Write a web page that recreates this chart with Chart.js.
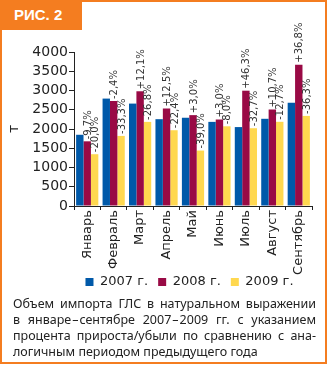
<!DOCTYPE html>
<html>
<head>
<meta charset="utf-8">
<script src="https://cdn.jsdelivr.net/npm/chart.js@4/dist/chart.umd.min.js"></script>
<style>
  html, body { margin: 0; padding: 0; background: #fff; }
  body { width: 329px; height: 365px; position: relative; overflow: hidden; }
  #frame { position: absolute; left: 0; top: 0; width: 327px; height: 364px; box-sizing: border-box; border: 2px solid #f47d20; }
  #tag { position: absolute; left: 0; top: 0; width: 82px; height: 30px; background: #f47d20; color: #fff;
         font: bold 15px "Liberation Sans", Arial, sans-serif; line-height: 30px; padding-left: 14px; box-sizing: border-box; z-index: 3; }
  #wrap { position: absolute; left: 3px; top: 3px; width: 322px; height: 306px; z-index: 1; }
  #caption { position: absolute; left: 13px; top: 296px; width: 303px; font: 12.5px "Noto Sans", sans-serif; line-height: 16px; color: #222; z-index: 2; }
  #caption div { text-align: justify; text-align-last: justify; white-space: nowrap; }
  #caption div.last { text-align: left; text-align-last: left; }
  #caption .d { margin: 0 1px; }
</style>
</head>
<body>
<div id="frame"></div>
<div id="tag">РИС. 2</div>
<div id="wrap"><canvas id="c" width="322" height="306"></canvas></div>
<div id="caption">
  <div>Объем импорта ГЛС в натуральном выражении</div>
  <div>в январе<span class="d">–</span>сентябре 2007<span class="d">–</span>2009 гг. с указанием</div>
  <div>процента прироста/убыли по сравнению с ана-</div>
  <div class="last">логичным периодом предыдущего года</div>
</div>
<script>
const months = ["Январь", "Февраль", "Март", "Апрель", "Май", "Июнь", "Июль", "Август", "Сентябрь"];
const seriesNames = ["2007 г.", "2008 г.", "2009 г."];
const v2007 = [1850, 2790, 2660, 2255, 2290, 2185, 2050, 2265, 2685];
const v2008 = [1680, 2725, 2980, 2535, 2360, 2250, 2995, 2505, 3670];
const v2009 = [1345, 1820, 2185, 1968, 1440, 2070, 2020, 2187, 2340];
const growth2008 = ["-9,7%", "-2,4%", "+12,1%", "+12,5%", "+3,0%", "+3,0%", "+46,3%", "+10,7%", "+36,8%"];
const growth2009 = ["-20,0%", "-33,3%", "-26,8%", "-22,4%", "-39,0%", "-8,0%", "-32,7%", "-12,7%", "-36,3%"];
const yMin = 0, yMax = 4000, yStep = 500;

const colors = ["#0059a9", "#990a45", "#ffd84f"];
const FONT = '"DejaVu Sans", sans-serif';

const pctLabels = {
  id: 'pctLabels',
  afterDatasetsDraw(chart) {
    const ctx = chart.ctx;
    ctx.save();
    ctx.font = '10px ' + FONT;
    ctx.fillStyle = '#333';
    ctx.textAlign = 'left';
    ctx.textBaseline = 'middle';
    [[1, growth2008], [2, growth2009]].forEach(([di, labels]) => {
      chart.getDatasetMeta(di).data.forEach((bar, i) => {
        ctx.save();
        ctx.translate(bar.x + 1, bar.y - 2);
        ctx.rotate(-Math.PI / 2);
        ctx.fillText(labels[i], 0, 0);
        ctx.restore();
      });
    });
    ctx.restore();
  }
};

const legendPlace = {
  id: 'legendPlace',
  beforeDraw(chart) {
    const lg = chart.legend;
    if (!lg) return;
    const h = lg.height;
    const ca = chart.chartArea;
    const d = (ca.left + ca.right) / 2 - 3.5 - (lg.left + lg.right) / 2;
    lg.left += d;
    lg.right += d;
    const pad = lg.options.labels.padding;
    const target = 279; // canvas y of legend row centre
    lg.top = target - pad - 6.5;
    lg.bottom = lg.top + h;
  }
};

new Chart(document.getElementById('c'), {
  type: 'bar',
  data: {
    labels: months,
    datasets: [
      { label: seriesNames[0], data: v2007, backgroundColor: colors[0], borderWidth: 0 },
      { label: seriesNames[1], data: v2008, backgroundColor: colors[1], borderWidth: 0 },
      { label: seriesNames[2], data: v2009, backgroundColor: colors[2], borderWidth: 0 }
    ]
  },
  options: {
    responsive: false,
    animation: false,
    devicePixelRatio: 1,
    layout: { padding: { left: 0, right: 13, top: 49, bottom: 0 } },
    datasets: { bar: { categoryPercentage: 0.84, barPercentage: 1.0 } },
    plugins: {
      legend: {
        position: 'bottom',
        labels: { boxWidth: 8, boxHeight: 8, padding: 10, color: '#222', font: { family: FONT, size: 13 } }
      },
      tooltip: { enabled: false }
    },
    scales: {
      x: {
        grid: { display: true, drawOnChartArea: false, drawTicks: true, tickLength: 4, color: '#222', offset: true },
        border: { display: true, color: '#222', width: 1 },
        ticks: { color: '#222', font: { family: FONT, size: 13 }, minRotation: 90, maxRotation: 90, autoSkip: false, padding: 0 },
        afterFit(scale) { scale.height = 70; }
      },
      y: {
        min: yMin, max: yMax,
        grid: { display: true, drawOnChartArea: false, drawTicks: true, tickLength: 5, color: '#222' },
        border: { display: true, color: '#222', width: 1 },
        ticks: { color: '#222', font: { family: FONT, size: 14 }, padding: 1, stepSize: yStep, autoSkip: false,
                 callback: (v) => String(v) },
        title: { display: true, text: 'т', color: '#222', font: { family: FONT, size: 14 }, padding: { top: 3, bottom: 0 } },
        afterFit(scale) { scale.width = 71; }
      }
    }
  },
  plugins: [pctLabels, legendPlace]
});
</script>
</body>
</html>
